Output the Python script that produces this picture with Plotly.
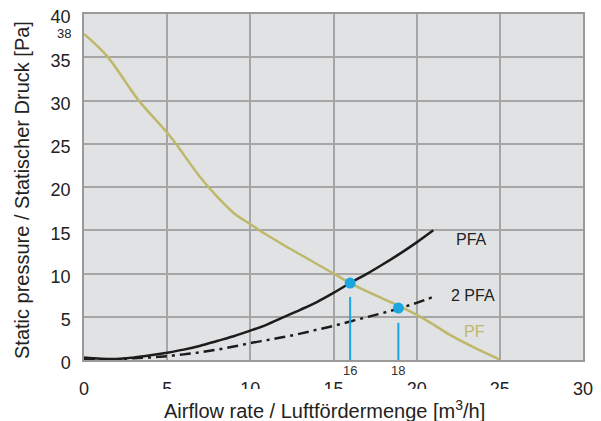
import plotly.graph_objects as go

# ---- data ----
pf_x = [0, 1.4, 3.25, 5.2, 7.0, 8.0, 9.0, 10.0, 11.0, 12.0, 13.0, 14.0, 15.0, 16.0,
        17.5, 19.0, 20.5, 22.0, 23.5, 24.95]
pf_y = [37.7, 35.1, 30.1, 25.8, 21.1, 18.9, 17.0, 15.7, 14.45, 13.3, 12.2, 11.1, 10.0, 8.9,
        7.5, 6.2, 4.7, 2.9, 1.4, 0.1]

pfa_x = list(range(0, 22))
pfa_y = [0.3, 0.15, 0.12, 0.3, 0.55, 0.85, 1.2, 1.65, 2.2, 2.75, 3.4, 4.1, 4.95, 5.8,
         6.7, 7.75, 8.9, 9.95, 11.1, 12.3, 13.6, 15.0]

pfa2_x = list(range(0, 22))
pfa2_y = [0.15, 0.1, 0.1, 0.2, 0.3, 0.45, 0.65, 0.9, 1.2, 1.55, 1.95, 2.3, 2.65, 3.05,
          3.5, 3.95, 4.45, 4.95, 5.45, 6.0, 6.6, 7.3]

op_x = [16.0, 18.9]
op_y = [8.9, 6.0]
op_line_top = [7.3, 4.3]
op_labels = ["16", "18"]

x_ticks = [0, 5, 10, 15, 20, 25, 30]
y_ticks = [0, 5, 10, 15, 20, 25, 30, 35, 40]

curve_labels = ["PFA", "2 PFA", "PF"]
curve_label_x = [23.3, 23.4, 23.5]
curve_label_y = [13.9, 7.5, 3.3]

BLUE = "#1ba6e1"
OLIVE = "#bdb86a"
DARK = "#1c1c1c"
FONT = "Liberation Sans, Arial, sans-serif"

fig = go.Figure()

fig.add_trace(go.Scatter(x=pf_x, y=pf_y, mode="lines", line=dict(color=OLIVE, width=2.5, shape="spline"),
                         showlegend=False, hoverinfo="skip"))
fig.add_trace(go.Scatter(x=pfa_x, y=pfa_y, mode="lines", line=dict(color=DARK, width=2.5, shape="spline"),
                         showlegend=False, hoverinfo="skip"))
fig.add_trace(go.Scatter(x=pfa2_x, y=pfa2_y, mode="lines",
                         line=dict(color=DARK, width=2.5, shape="spline", dash="11px,5px,3px,5px"),
                         showlegend=False, hoverinfo="skip"))

for xv, top in zip(op_x, op_line_top):
    fig.add_trace(go.Scatter(x=[xv, xv], y=[-0.2, top], mode="lines", line=dict(color=BLUE, width=2),
                             showlegend=False, hoverinfo="skip", cliponaxis=False))

fig.add_trace(go.Scatter(x=op_x, y=op_y, mode="markers", marker=dict(color=BLUE, size=11),
                         showlegend=False, hoverinfo="skip"))

annotations = []
for xv, lab in zip(op_x, op_labels):
    annotations.append(dict(x=xv, y=0, xref="x", yref="y", text=lab, showarrow=False,
                            yshift=-10, font=dict(size=13, color="#333333", family=FONT)))

for lab, xv, yv in zip(curve_labels, curve_label_x, curve_label_y):
    annotations.append(dict(x=xv, y=yv, xref="x", yref="y", text=lab, showarrow=False,
                            font=dict(size=16, color=OLIVE if lab == "PF" else "#222222", family=FONT)))

# extra "38" tick label
annotations.append(dict(x=0, y=38, xref="paper", yref="y", text="38", showarrow=False,
                        xanchor="right", xshift=-11, yshift=-2,
                        font=dict(size=13, color="#222222", family=FONT)))

# axis titles
annotations.append(dict(x=0.5, y=0, xref="paper", yref="paper",
                        text="Airflow rate / Luftfördermenge [m<sup>3</sup>/h]", showarrow=False,
                        xanchor="center", yanchor="middle", yshift=-49, xshift=-9,
                        font=dict(size=20, color="#222222", family=FONT)))
annotations.append(dict(x=0, y=0.5, xref="paper", yref="paper",
                        text="Static pressure / Statischer Druck [Pa]", showarrow=False,
                        textangle=-90, xanchor="center", yanchor="middle", xshift=-62, yshift=-3,
                        font=dict(size=20, color="#222222", family=FONT)))

# white band that clips the lower part of the middle x tick labels (as in the reference)
shapes = [dict(type="rect", xref="paper", yref="paper", x0=0.08, x1=0.92, y0=-0.105, y1=-0.0838,
               fillcolor="white", line=dict(width=0), layer="above")]

# the page body has an 8px margin, so the figure is shrunk by 8px and margins reduced
fig.update_layout(
    width=593, height=413,
    margin=dict(l=76, r=18, t=6, b=61, autoexpand=False),
    paper_bgcolor="white",
    plot_bgcolor="#e1e2e4",
    font=dict(family=FONT, size=18, color="#222222"),
    annotations=annotations,
    shapes=shapes,
    xaxis=dict(range=[0, 30], tickvals=x_ticks, ticktext=[str(v) for v in x_ticks],
               showgrid=True, gridcolor="#a6a6a6", gridwidth=1.5, zeroline=False,
               showline=True, linecolor="#9a9a9a", linewidth=1.5, mirror=True,
               ticks="", ticklabelstandoff=12, tickfont=dict(size=18), automargin=False,
               ticklabeloverflow="allow"),
    yaxis=dict(range=[0, 40], tickvals=y_ticks, ticktext=[str(v) for v in y_ticks],
               showgrid=True, gridcolor="#a6a6a6", gridwidth=1.5, zeroline=False,
               showline=True, linecolor="#9a9a9a", linewidth=1.5, mirror=True,
               ticks="", ticklabelstandoff=8, ticklabelshift=3, tickfont=dict(size=18),
               automargin=False, ticklabeloverflow="allow"),
)

fig.write_html("out.html")
